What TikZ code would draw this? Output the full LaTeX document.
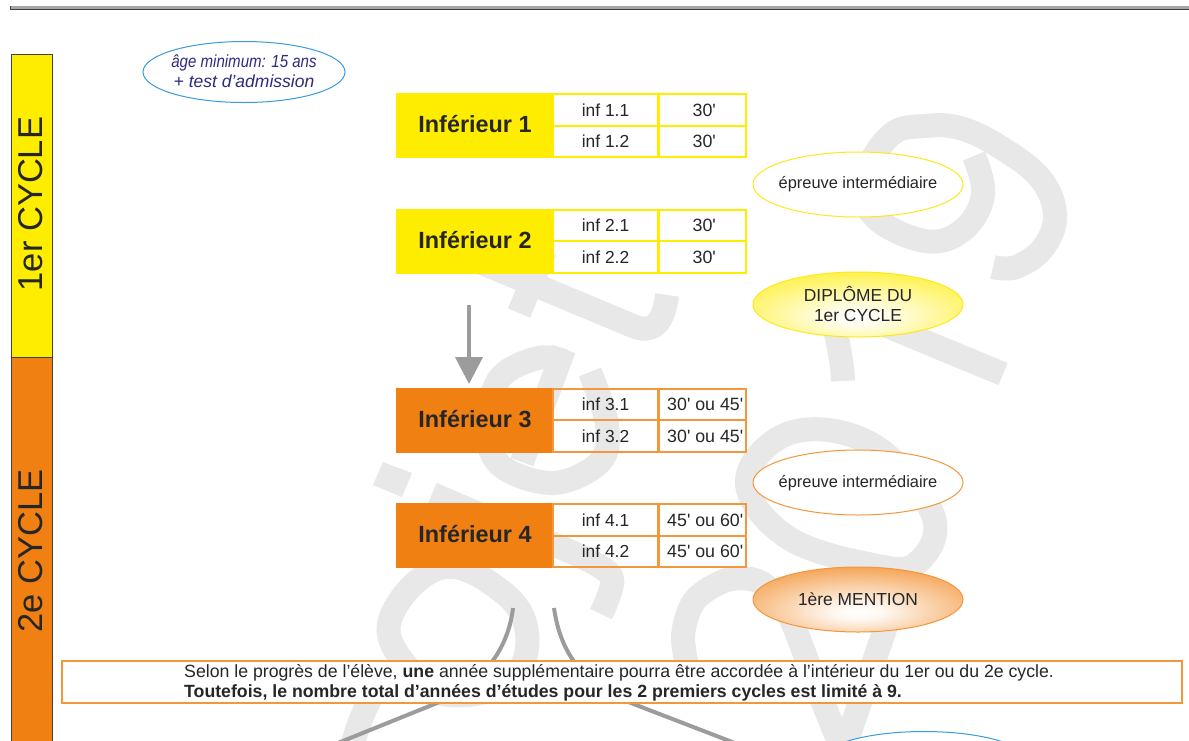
\documentclass[tikz,border=0pt]{standalone}
\usepackage{fontspec}
\usepackage{graphicx}
\newfontfamily\arl{Liberation Sans}
\usetikzlibrary{shapes.geometric,arrows.meta}
\definecolor{cyel}{HTML}{FFED00}
\definecolor{cyell}{HTML}{FFE81A}
\definecolor{cora}{HTML}{F18012}
\definecolor{coral}{HTML}{F3963C}
\definecolor{cwm}{HTML}{E8E8E8}
\definecolor{cgr}{HTML}{9C9C9C}
\definecolor{cblue}{HTML}{3A9BDC}
\definecolor{cnavy}{HTML}{2E2A80}
\definecolor{ctxt}{HTML}{262626}
\pgfdeclareradialshading{yelrad}{\pgfpoint{0bp}{-10bp}}{color(0bp)=(white); color(6bp)=(white!94!cyel); color(44bp)=(cyel); color(100bp)=(cyel)}
\pgfdeclareradialshading{orarad}{\pgfpoint{0bp}{-10bp}}{color(0bp)=(white); color(6bp)=(white!94!cora); color(44bp)=(cora); color(100bp)=(cora)}
\tikzset{
  wm/.style={draw=cwm,line width=24pt,line cap=butt,line join=round},
  grayline/.style={draw=cgr,line width=4pt},
  cellbox/.style={draw=#1,line width=1.3pt,rectangle,inner sep=0pt,text=ctxt},
  labelbox/.style={draw=#1,fill=#1,line width=1.3pt,rectangle,inner sep=0pt,text=ctxt,font=\arl\fontsize{23.4}{26}\selectfont\bfseries},
  bubble/.style={ellipse,inner ysep=0pt,inner xsep=-10pt,minimum width=210pt,minimum height=65pt,align=center,text=ctxt},
  cyclebox/.style={draw=black!75,line width=1pt,rectangle,inner sep=0pt,minimum width=41pt,text=black!85},
}
\newcommand{\cellf}{\arl\fontsize{17.4}{20}\selectfont}
\newcommand{\timef}{\arl\fontsize{17.8}{20}\selectfont}
\newcommand{\inftable}[8]{%
  \node[labelbox=#8,minimum width=156pt,minimum height={(#3-#1)*1pt}] (lab#5) at (475,{(#1+#3)/2}) {\raisebox{3pt}{Inférieur #5}};
  \node[cellbox=#4,minimum width=105pt,minimum height={(#2-#1)*1pt},font=\cellf] (c#5a) at (605.5,{(#1+#2)/2}) {inf #5.1};
  \node[cellbox=#4,minimum width=105pt,minimum height={(#3-#2)*1pt},font=\cellf] (c#5b) at (605.5,{(#2+#3)/2}) {inf #5.2};
  \node[cellbox=#4,minimum width=86.5pt,minimum height={(#2-#1)*1pt},font=\timef] (t#5a) at (702.75,{(#1+#2)/2}) {#6};
  \node[cellbox=#4,minimum width=86.5pt,minimum height={(#3-#2)*1pt},font=\timef] (t#5b) at (702.75,{(#2+#3)/2}) {#7};
}
\begin{document}
\begin{tikzpicture}[x=1pt,y=-1pt]
\useasboundingbox (0,0) rectangle (1189,740);
\clip (0,0) rectangle (1189,740);
\fill[white] (0,0) rectangle (1189,740);
% watermark: 9
\draw[wm] plot[smooth,tension=.65] coordinates {(993,267) (1016,267) (1043,248) (1055,215) (1040,178) (1000,147) (960,128) (925,126) (892,134) (868,172) (873,215) (925,241) (963,230) (983,195) (974,156)};
% 1
\draw[wm] (858,314) -- (1003,374);
\draw[wm] (830,310) .. controls (838,340) and (842,360) .. (843,381);
% t
\draw[wm] (432,242) -- (633,326) .. controls (655,335) and (664,320) .. (667,295);
\draw[wm] (519,313) -- (545,251);
% e
\draw[wm] (564,349) -- (522,462);
\draw[wm] plot[smooth,tension=.6] coordinates {(564,361) (538,358) (500,378) (487,425) (500,465) (553,483) (600,462) (607,425) (590,372)};
% j
\fill[cwm] (383,462) -- (412,473) -- (402,497) -- (373,485) -- cycle;
\draw[wm] plot[smooth,tension=.5] coordinates {(432,494) (500,523) (580,556) (612,578) (601,614)};
% o
\draw[wm] plot[smooth cycle,tension=.7] coordinates {(390,620) (440,568) (500,590) (527,633) (510,680) (450,695) (410,670)};
\draw[wm] (372,695) .. controls (362,715) and (356,730) .. (352,748);
% 2
\draw[wm] plot[smooth,tension=.5] coordinates {(692,690) (683,637) (695,600) (727,580) (760,582) (788,613) (818,690) (843,752)};
\draw[wm] (843,752) -- (895,600);
% 0
\draw[wm] plot[smooth cycle,tension=.65] coordinates {(747,480) (793,432) (873,445) (933,515) (917,563) (873,565) (787,537)};
% grey arrows
\coordinate (arrs) at (469,305);
\coordinate (arre) at (469,384);
\draw[grayline,-{Triangle[width=27pt,length=27pt]}] (arrs) -- (arre);
\coordinate (cla) at (513,608);
\coordinate (clb) at (333,745);
\coordinate (cra) at (554,608);
\coordinate (crb) at (740,745);
\draw[grayline] (cla) .. controls (507,660) and (470,690) .. (437,703) -- (clb);
\draw[grayline] (cra) .. controls (562,665) and (595,688) .. (631,703) -- (crb);
% top rule
\fill[black!35] (10,6) rectangle (1189,9);
\draw[black!75,line width=1.4pt] (10.7,6) -- (10.7,9.6) -- (1189,9.6);
% cycle column
\node[cyclebox,fill=cyel,minimum height=303pt] (cyc1) at (31.5,205.5) {};
\node[cyclebox,fill=cora,minimum height=390pt] (cyc2) at (31.5,552) {};
\node[rotate=90,text=black!85,font=\arl\fontsize{34.5}{36}\selectfont] (cyc1t) at (31,204) {1er CYCLE};
\node[rotate=90,text=black!85,font=\arl\fontsize{34.5}{36}\selectfont] (cyc2t) at (31,551) {2e CYCLE};
% tables
\inftable{94}{126}{157}{cyel}{1}{\hspace*{3pt}30'}{\hspace*{3pt}30'}{cyel}
\inftable{210}{241}{273}{cyel}{2}{\hspace*{3pt}30'}{\hspace*{3pt}30'}{cyel}
\inftable{389}{420}{452}{coral}{3}{\hspace*{5pt}30' ou 45'}{\hspace*{5pt}30' ou 45'}{cora}
\inftable{504}{536}{567}{coral}{4}{\hspace*{5pt}45' ou 60'}{\hspace*{5pt}45' ou 60'}{cora}
% bubbles
\node[bubble,draw=cblue,line width=1pt,fill=white,minimum width=202pt,minimum height=61pt,text=cnavy,font=\arl\itshape\fontsize{17.5}{20}\selectfont] (age) at (244,72) {\raisebox{1pt}{\scalebox{.86}[1]{âge minimum: 15 ans}}\\\raisebox{1pt}{+ test d’admission}};
\node[bubble,draw=cyell,line width=1pt,fill=white,font=\arl\fontsize{16.4}{20}\selectfont] (ep1) at (858,184.5) {\raisebox{0pt}[7pt][0pt]{épreuve intermédiaire}};
\node[bubble,draw=cyell,line width=1pt,shading=yelrad,font=\arl\fontsize{17.4}{20}\selectfont] (dip) at (858,304.5) {\raisebox{1pt}{DIPLÔME DU}\\\raisebox{1pt}{1er CYCLE}};
\node[bubble,draw=coral,line width=1pt,fill=white,font=\arl\fontsize{16.4}{20}\selectfont] (ep2) at (858,482.5) {\raisebox{0pt}[9pt][0pt]{épreuve intermédiaire}};
\node[bubble,draw=coral,line width=1pt,shading=orarad,font=\arl\fontsize{17.4}{20}\selectfont] (men) at (858,599.5) {1ère MENTION};
\node[bubble,draw=cblue,line width=1pt,fill=white,minimum height=61pt] (low) at (924,762) {};
% note
\node[draw=coral,line width=1.5pt,fill=white,rectangle,inner sep=0pt,minimum width=1120pt,minimum height=42pt] (note) at (622,682) {};
\node[anchor=west,inner sep=0pt,align=left,text=ctxt,font=\arl\fontsize{17.7}{19.5}\selectfont] (notet) at (184,683) {Selon le progrès de l’élève, \textbf{une} année supplémentaire pourra être accordée à l’intérieur du 1er ou du 2e cycle.\\\textbf{Toutefois, le nombre total d’années d’études pour les 2 premiers cycles est limité à 9.}};
\end{tikzpicture}
\end{document}
